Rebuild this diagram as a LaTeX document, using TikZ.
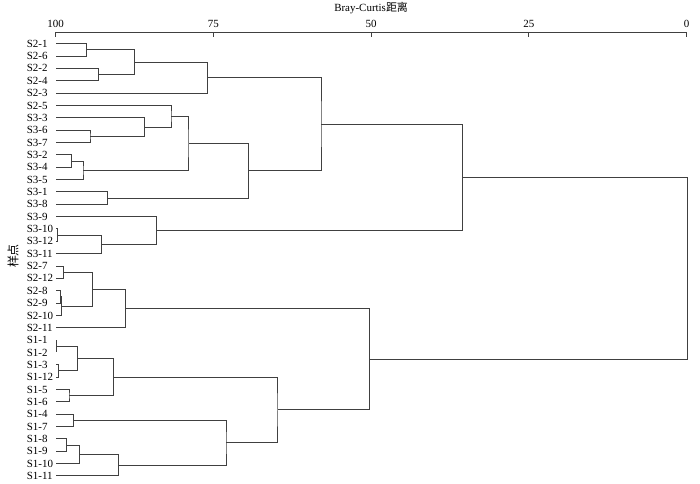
\documentclass[tikz,border=0pt]{standalone}
\usepackage{fontspec}
\setmainfont{Liberation Serif}
\newfontfamily\cjk{Noto Sans CJK SC}
\usetikzlibrary{calc}

\begin{document}
\begin{tikzpicture}[x={(-6.308bp,0)}, y={(0,-12.35bp)},
    link/.style={line width=1bp, black!75},
    leaflabel/.style={anchor=west, inner sep=0pt, font=\fontsize{11}{13}\selectfont},
    ticklabel/.style={anchor=base, inner sep=0pt, font=\fontsize{11}{13}\selectfont}]
  \useasboundingbox (108.83,-3.54) rectangle (-2.14,35.57);

  % Distance axis on top
  \draw[link] (100,-0.923) -- (0,-0.923); % axis line
  \foreach \s in {100,75,50,25,0} {
    \draw[link] (\s,-0.923) -- (\s,-0.52); % ticks
    \node[ticklabel] (t\s) at (\s,-1.33) {\s};
  }
  \node[ticklabel] (title) at (50,-2.59) {Bray-Curtis{\cjk 距离}};
  \node[rotate=90, inner sep=0pt, font=\fontsize{12}{14}\selectfont] (ylab) at (106.77,17.19) {\cjk 样点};

  % Leaves
  \foreach \name [count=\i from 0] in {S2-1,S2-6,S2-2,S2-4,S2-3,S2-5,S3-3,S3-6,S3-7,S3-2,S3-4,S3-5,
      S3-1,S3-8,S3-9,S3-10,S3-12,S3-11,S2-7,S2-12,S2-8,S2-9,S2-10,S2-11,
      S1-1,S1-2,S1-3,S1-12,S1-5,S1-6,S1-4,S1-7,S1-8,S1-9,S1-10,S1-11} {
    \coordinate (l\i) at (99.9,\i);
    \node[leaflabel] (n\i) at (104.6,\i) {\name};
  }

  % Merges: name / left child / right child / level
  \foreach \m/\p/\q/\x in {a1/l0/l1/95.15, a2/l2/l3/93.29, a3/a1/a2/87.54, a4/a3/l4/75.97,
      b1/l7/l8/94.56, b2/l6/b1/85.89, b3/l5/b2/81.72, b4/l9/l10/97.46, b5/b4/l11/95.67,
      b6/b3/b5/78.87, b7/l12/l13/91.82, b8/b6/b7/69.40, c1/a4/b8/57.94,
      d1/l15/l16/99.64, d2/d1/l17/92.71, d3/l14/d2/83.99, c2/c1/d3/35.48,
      e1/l18/l19/98.73, e2/l20/l21/99.27, e3/e2/l22/99.05, e4/e1/e3/94.09, e5/e4/l23/88.97,
      f1/l24/l25/99.9, f2/l26/l27/99.52, f3/f1/f2/96.58, f4/l28/l29/97.89, f5/f3/f4/90.87,
      g1/l30/l31/97.15, g2/l32/l33/98.32, g3/g2/l34/96.20, g4/g3/l35/89.97, g5/g1/g4/73.00,
      f6/f5/g5/64.76, h1/e5/f6/50.28, root/c2/h1/-0.2} {
    \path ($(\p)!0.5!(\q)$) coordinate (mid);
    \coordinate (\m) at (\x,0 |- mid);
    \draw[link] (\p) -| (\m) |- (\q);
  }
\end{tikzpicture}
\end{document}
